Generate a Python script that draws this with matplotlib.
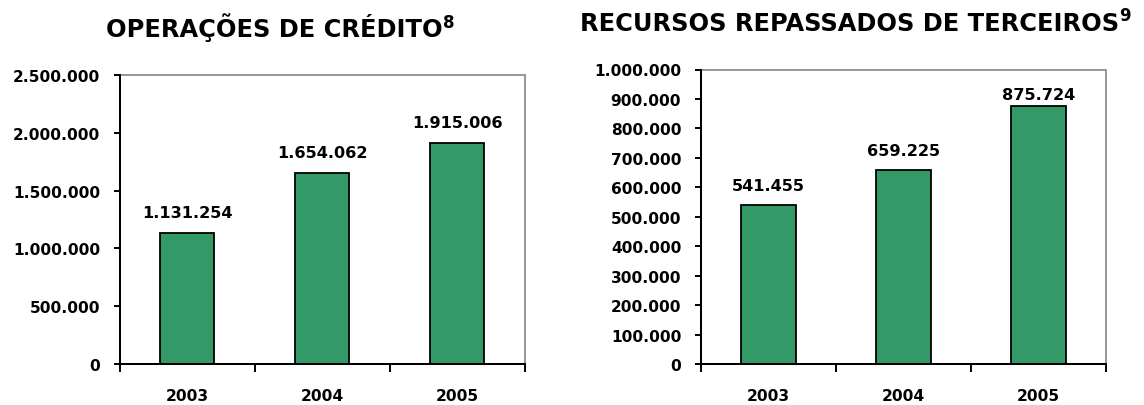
import matplotlib
matplotlib.use("Agg")
import matplotlib.pyplot as plt
from matplotlib.ticker import FuncFormatter, MultipleLocator

plt.rcParams['font.family'] = ['DejaVu Sans']
plt.rcParams['font.weight'] = 'bold'

years = ["2003", "2004", "2005"]
credito = [1131254, 1654062, 1915006]
recursos = [541455, 659225, 875724]

title_left = "OPERAÇÕES DE CRÉDITO"
title_right = "RECURSOS REPASSADOS DE TERCEIROS"
note_left = "8"
note_right = "9"

BAR_COLOR = "#339966"
W, H = 1144, 406
fig = plt.figure(figsize=(W / 100, H / 100), dpi=100)
renderer = fig.canvas.get_renderer()


def fmt(v, pos=None):
    return f"{v:,.0f}".replace(",", ".")


def panel(rect_px, values, ymax, ystep, label_offsets, title, note,
          title_cx, title_base, note_rise):
    l, t, r, b = rect_px
    ax = fig.add_axes([l / W, 1 - b / H, (r - l) / W, (b - t) / H])
    x = list(range(len(values)))
    ax.bar(x, values, width=0.407, color=BAR_COLOR, edgecolor="black",
           linewidth=1.3, zorder=2)
    ax.set_xlim(-0.5, len(values) - 0.5)
    ax.set_ylim(0, ymax)
    ax.yaxis.set_major_locator(MultipleLocator(ystep))
    ax.yaxis.set_major_formatter(FuncFormatter(fmt))
    ax.set_xticks(x)
    ax.set_xticklabels(years)
    ax.set_xticks([i - 0.5 for i in range(len(values) + 1)], minor=True)
    ax.tick_params(axis='x', which='major', length=0, pad=17.3, labelsize=11.2)
    ax.tick_params(axis='x', which='minor', length=5.4, width=1.4,
                   direction='out', color='black')
    ax.tick_params(axis='y', which='major', length=4.5, width=1.4, pad=9.4,
                   labelsize=11.1)
    for s in ['left', 'bottom']:
        ax.spines[s].set_color('black')
        ax.spines[s].set_linewidth(1.45)
        ax.spines[s].set_zorder(3)
    for s in ['top', 'right']:
        ax.spines[s].set_color('#999999')
        ax.spines[s].set_linewidth(1.45)
    for xi, v, off in zip(x, values, label_offsets):
        ax.annotate(fmt(v), (xi, v), xytext=(0, off), textcoords='offset pixels',
                    ha='center', va='baseline', fontsize=11.6, fontweight='bold')
    tt = fig.text(title_cx / W, 1 - title_base / H, title, ha='center',
                  va='baseline', fontsize=17.4, fontweight='bold')
    bb = tt.get_window_extent(renderer=renderer)
    fig.text((bb.x1 + 0.5) / W, 1 - (title_base - note_rise) / H, note,
             ha='left', va='baseline', fontsize=12, fontweight='bold')
    return ax


panel((119.5, 76, 524.5, 365), credito, 2500000, 500000,
      [16, 16, 16], title_left, note_left, 274, 36.7, 8.5)
panel((700.5, 70.5, 1106, 365), recursos, 1000000, 100000,
      [15, 15, 7], title_right, note_right, 849.5, 30.7, 10)

fig.savefig("out.png", dpi=100)
